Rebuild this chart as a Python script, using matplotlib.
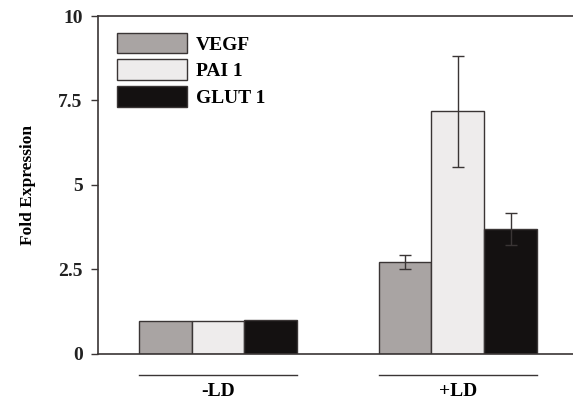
import numpy as np
import matplotlib.pyplot as plt
import matplotlib.transforms as mtransforms

# data
groups = ["-LD", "+LD"]
series = ["VEGF", "PAI 1", "GLUT 1"]
vegf = [0.97, 2.72]
pai1 = [0.97, 7.18]
glut1 = [1.0, 3.70]
vegf_err = [0.0, 0.20]
pai1_err = [0.0, 1.65]
glut1_err = [0.0, 0.47]

colors = ["#a9a4a3", "#eeecec", "#141111"]

plt.rcParams["font.family"] = "Liberation Serif"
plt.rcParams["font.weight"] = "bold"

fig = plt.figure(figsize=(5.73, 4.11), dpi=100)
ax = fig.add_axes([0.171, 0.139, 0.829, 0.822])

x = np.arange(len(groups))
w = 0.22
vals = [vegf, pai1, glut1]
errs = [vegf_err, pai1_err, glut1_err]
for i in range(3):
    ax.bar(x + (i - 1) * w, vals[i], w, color=colors[i], edgecolor="#3a3535",
           linewidth=1.0, label=series[i], zorder=2)
    e = np.array(errs[i])
    xe = (x + (i - 1) * w)[e > 0]
    ye = np.array(vals[i])[e > 0]
    ax.errorbar(xe, ye, yerr=e[e > 0], fmt="none", ecolor="#3a3535",
                elinewidth=1.0, capsize=4, capthick=1.0, zorder=3)

ax.set_xlim(-0.5, 1.48)
ax.set_ylim(0, 10)
ax.set_yticks([0, 2.5, 5, 7.5, 10])
ax.set_yticklabels(["0", "2.5", "5", "7.5", "10"], fontsize=14, fontweight="bold")
ax.tick_params(axis="y", direction="out", length=5, width=1, colors="#3a3535",
               labelcolor="#222222", pad=6)
ax.set_xticks([])
ax.spines["right"].set_visible(False)
for s in ["left", "top", "bottom"]:
    ax.spines[s].set_color("#3a3535")
    ax.spines[s].set_linewidth(1.2)

ax.set_ylabel("Fold Expression", fontsize=12.5, fontweight="bold", labelpad=16)

# group underlines and labels
trans = mtransforms.blended_transform_factory(ax.transData, ax.transAxes)
for xi, g in zip(x, groups):
    ax.plot([xi - 1.5 * w, xi + 1.5 * w], [-0.062, -0.062], color="#3a3535",
            linewidth=1.0, transform=trans, clip_on=False)
    ax.text(xi, -0.112, g, transform=trans, ha="center", va="center",
            fontsize=14, fontweight="bold")

ax.legend(loc="upper left", bbox_to_anchor=(0.015, 0.985), frameon=False,
          fontsize=14, handlelength=3.6, handleheight=1.25, labelspacing=0.3,
          handletextpad=0.45, borderaxespad=0.2)

fig.savefig("out.png", dpi=100)
